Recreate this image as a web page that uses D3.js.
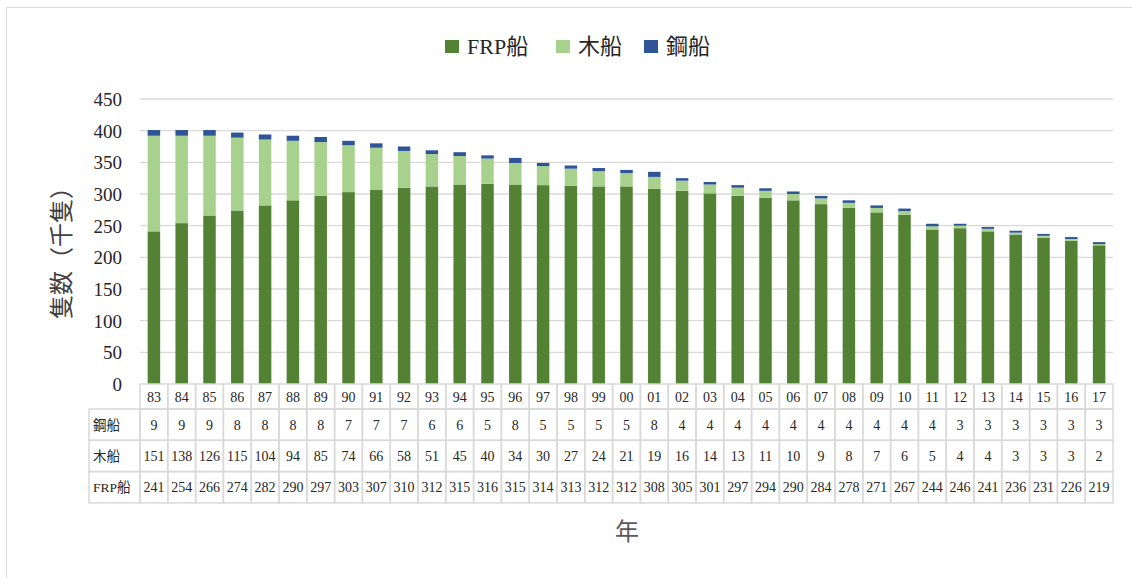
<!DOCTYPE html>
<html>
<head>
<meta charset="utf-8">
<script src="https://cdn.jsdelivr.net/npm/d3@7"></script>
<style>
  body { margin: 0; background: #fff; }
</style>
</head>
<body>
<svg id="chart" width="1132" height="578"></svg>
<script>
// data
const years = ["83","84","85","86","87","88","89","90","91","92","93","94","95","96","97","98","99",
  "00","01","02","03","04","05","06","07","08","09","10","11","12","13","14","15","16","17"];
const steel = [9,9,9,8,8,8,8,7,7,7,6,6,5,8,5,5,5,5,8,4,4,4,4,4,4,4,4,4,4,3,3,3,3,3,3];
const wood = [151,138,126,115,104,94,85,74,66,58,51,45,40,34,30,27,24,21,19,16,14,13,11,10,9,8,7,6,5,4,4,3,3,3,2];
const frp = [241,254,266,274,282,290,297,303,307,310,312,315,316,315,314,313,312,312,308,305,301,297,294,290,284,278,271,267,244,246,241,236,231,226,219];
const yTicks = [0,50,100,150,200,250,300,350,400,450];

const series = [
  { key: "frp", label: "FRP船", color: "#548235", values: frp },
  { key: "wood", label: "木船", color: "#a9d18e", values: wood },
  { key: "steel", label: "鋼船", color: "#2f5597", values: steel }
];
// table order (top to bottom)
const tableRows = [series[2], series[1], series[0]];

const serif = "'Liberation Serif', 'Noto Sans CJK JP', serif";

const svg = d3.select("#chart");
const margin = { top: 99, left: 140, right: 19 };
const plotBottom = 384;
const innerWidth = 1132 - margin.left - margin.right;

// outer frame
svg.append("rect")
  .attr("x", 6.5).attr("y", 7.5)
  .attr("width", 1140).attr("height", 600)
  .attr("fill", "none")
  .attr("stroke", "#d9d9d9");

const g = svg.append("g");

const x = d3.scaleBand()
  .domain(years)
  .range([margin.left, margin.left + innerWidth])
  .paddingInner(0.55)
  .paddingOuter(0.275);

const y = d3.scaleLinear()
  .domain([0, 450])
  .range([plotBottom, margin.top]);

// grid
g.append("g")
  .attr("class", "grid")
  .selectAll("line")
  .data(yTicks.filter(d => d > 0))
  .join("line")
  .attr("x1", margin.left)
  .attr("x2", margin.left + innerWidth)
  .attr("y1", d => y(d))
  .attr("y2", d => y(d))
  .attr("stroke", "#d9d9d9")
  .attr("stroke-width", 1.3);

// y axis labels
const yAxis = g.append("g")
  .attr("transform", `translate(${margin.left - 18},0)`)
  .call(d3.axisLeft(y).tickValues(yTicks).tickSize(0).tickPadding(0));
yAxis.select(".domain").remove();
yAxis.selectAll("text")
  .attr("dy", "0.35em")
  .style("font-family", serif)
  .style("font-size", "19px")
  .attr("fill", "#262626");

// stacked bars
const stackData = years.map((yr, i) => ({ year: yr, frp: frp[i], wood: wood[i], steel: steel[i] }));
const stacked = d3.stack().keys(series.map(s => s.key))(stackData);

g.selectAll("g.layer")
  .data(stacked)
  .join("g")
  .attr("class", "layer")
  .attr("fill", (d, i) => series[i].color)
  .selectAll("rect")
  .data(d => d)
  .join("rect")
  .attr("x", d => x(d.data.year))
  .attr("width", x.bandwidth())
  .attr("y", d => y(d[1]))
  .attr("height", d => y(d[0]) - y(d[1]));

// data table
const colW = innerWidth / years.length;
const headerH = 25;
const rowH = 31.3;
const labelX = 89;
const tbl = g.append("g").attr("class", "table");
const lineColor = "#d9d9d9";

// header (years)
years.forEach((yr, i) => {
  const cx = margin.left + i * colW;
  tbl.append("rect")
    .attr("x", cx).attr("y", plotBottom)
    .attr("width", colW).attr("height", headerH)
    .attr("fill", "none").attr("stroke", lineColor).attr("stroke-width", 1.5);
  tbl.append("text")
    .attr("x", cx + colW / 2).attr("y", plotBottom + headerH / 2 + 5)
    .attr("text-anchor", "middle")
    .style("font-family", serif)
    .style("font-size", "14px")
    .attr("fill", "#262626")
    .text(yr);
});

tableRows.forEach((s, r) => {
  const ry = plotBottom + headerH + r * rowH;
  tbl.append("rect")
    .attr("x", labelX).attr("y", ry)
    .attr("width", margin.left - labelX).attr("height", rowH)
    .attr("fill", "none").attr("stroke", lineColor).attr("stroke-width", 1.5);
  tbl.append("text")
    .attr("x", labelX + 4).attr("y", ry + rowH / 2 + 5)
    .style("font-family", serif)
    .style("font-size", "13.5px")
    .attr("fill", "#262626")
    .text(s.label);
  s.values.forEach((v, i) => {
    const cx = margin.left + i * colW;
    tbl.append("rect")
      .attr("x", cx).attr("y", ry)
      .attr("width", colW).attr("height", rowH)
      .attr("fill", "none").attr("stroke", lineColor).attr("stroke-width", 1.5);
    tbl.append("text")
      .attr("x", cx + colW / 2).attr("y", ry + rowH / 2 + 5)
      .attr("text-anchor", "middle")
      .style("font-family", serif)
      .style("font-size", "14px")
      .attr("fill", "#262626")
      .text(v);
  });
});

// axis titles
svg.append("text")
  .attr("transform", "translate(70,247) rotate(-90)")
  .attr("text-anchor", "middle")
  .style("font-family", serif)
  .style("font-size", "24px")
  .attr("fill", "#404040")
  .text("隻数（千隻）");

svg.append("text")
  .attr("x", 627).attr("y", 540)
  .attr("text-anchor", "middle")
  .style("font-family", serif)
  .style("font-size", "24px")
  .attr("fill", "#595959")
  .text("年");

// legend
const legendX = [445, 556, 644];
const legend = svg.append("g").attr("class", "legend");
series.forEach((s, i) => {
  const lg = legend.append("g").attr("transform", `translate(${legendX[i]},40)`);
  lg.append("rect")
    .attr("width", 14).attr("height", 13)
    .attr("fill", s.color);
  lg.append("text")
    .attr("x", 22).attr("y", 14)
    .style("font-family", serif)
    .style("font-size", "22px")
    .attr("fill", "#262626")
    .text(s.label);
});
</script>
</body>
</html>
